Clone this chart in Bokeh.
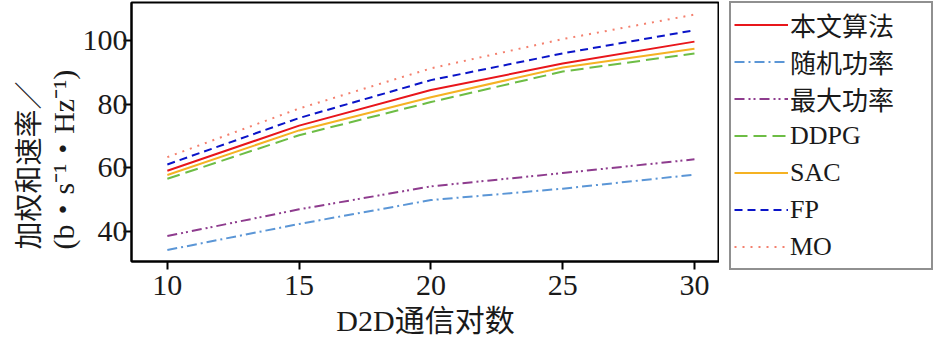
from bokeh.plotting import figure
from bokeh.layouts import row
from bokeh.models import Range1d, FixedTicker, Legend, LegendItem, Title
from bokeh.embed import file_html
from bokeh.resources import INLINE

# ---- data ----
pairs = [10, 15, 20, 25, 30]
ours = [59.0, 73.2, 84.4, 92.7, 99.6]
random_power = [34.1, 42.3, 49.8, 53.4, 57.8]
max_power = [38.5, 46.9, 54.1, 58.3, 62.6]
ddpg = [56.5, 70.2, 80.6, 90.2, 95.9]
sac = [57.7, 71.7, 82.1, 91.5, 97.4]
fp = [61.0, 75.6, 87.5, 95.9, 103.2]
mo = [63.3, 78.6, 91.2, 100.4, 108.1]

series_names = ["本文算法", "随机功率", "最大功率", "DDPG", "SAC", "FP", "MO"]
x_ticks = [10, 15, 20, 25, 30]
y_ticks = [40, 60, 80, 100]

FONT = "Liberation Serif, Noto Sans CJK SC"

p = figure(width=719, height=339, output_backend="svg", toolbar_location=None,
           x_range=Range1d(8.64, 30.95), y_range=Range1d(30.5, 111.9),
           min_border_top=2, min_border_left=131, min_border_bottom=0, min_border_right=0)

p.xgrid.visible = False
p.ygrid.visible = False
p.outline_line_color = "black"
p.outline_line_width = 2
p.outline_line_alpha = 1

for ax in (p.xaxis[0], p.yaxis[0]):
    ax.axis_line_color = "black"
    ax.axis_line_width = 2
    ax.major_tick_line_color = "black"
    ax.major_tick_line_width = 2
    ax.major_tick_out = 8
    ax.major_tick_in = 0
    ax.minor_tick_line_color = None
    ax.major_label_text_font = FONT
    ax.major_label_text_font_size = "30px"
    ax.major_label_text_color = "#1a1a1a"
p.xaxis.major_label_standoff = 6
p.yaxis.major_label_standoff = -4

p.xaxis.ticker = FixedTicker(ticks=x_ticks)
p.yaxis.ticker = FixedTicker(ticks=y_ticks)
p.xaxis.axis_label = "D2D通信对数"
p.xaxis.axis_label_text_font = FONT
p.xaxis.axis_label_text_font_size = "30px"
p.xaxis.axis_label_text_font_style = "normal"
p.xaxis.axis_label_text_color = "#1a1a1a"
p.xaxis.axis_label_standoff = 6

styles = [
    (ours, "#e8161b", "solid"),
    (random_power, "#5b96d6", "10 4 2 4"),
    (max_power, "#8e3c8e", "10 4 2 3 2 4"),
    (ddpg, "#6dbd45", "13 6"),
    (sac, "#f5b223", "solid"),
    (fp, "#0a14c8", "8 5"),
    (mo, "#f4806e", "2 6"),
]

t_inner = Title(text="(b・s⁻¹・Hz⁻¹)", align="left", text_font=FONT,
                text_font_size="30px", text_font_style="normal", text_color="#1a1a1a",
                offset=12, standoff=0)
t_outer = Title(text="加权和速率／", align="left", text_font=FONT,
                text_font_size="28px", text_font_style="normal", text_color="#1a1a1a",
                offset=12, standoff=0)
p.add_layout(t_inner, "left")
p.add_layout(t_outer, "left")

# legend host: a slim figure to the right carrying the same series (hidden)
q = figure(frame_width=1, frame_height=269, output_backend="svg", toolbar_location=None,
           x_axis_location=None, y_axis_location=None,
           min_border_top=0, min_border_left=8, min_border_bottom=0, min_border_right=0)
q.grid.visible = False
q.outline_line_color = None

items = []
for name, (vals, color, dash) in zip(series_names, styles):
    p.line(pairs, vals, line_color=color, line_width=2, line_dash=dash)
    r = q.line(pairs, vals, line_color=color, line_width=2, line_dash=dash, visible=False)
    items.append(LegendItem(label=name, renderers=[r]))

legend = Legend(items=items, location="top_left")
legend.label_text_font = FONT
legend.label_text_font_size = "26px"
legend.label_text_color = "#1a1a1a"
legend.label_height = 37
legend.glyph_height = 37
legend.glyph_width = 54
legend.label_width = 138
legend.label_standoff = 2
legend.spacing = 0
legend.padding = 3
legend.margin = 1
legend.border_line_color = "#222222"
legend.border_line_width = 2
legend.background_fill_alpha = 1
q.add_layout(legend, "right")

layout = row(p, q, spacing=0)
open("out.html", "w").write(file_html(layout, INLINE))
